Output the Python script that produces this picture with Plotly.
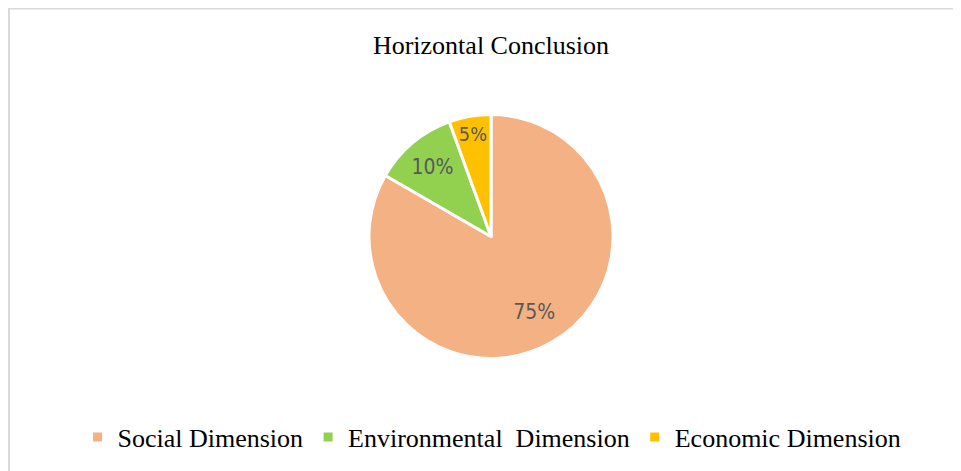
import plotly.graph_objects as go

categories = ["Social Dimension", "Environmental\u00a0 Dimension", "Economic Dimension"]
values = [75, 10, 5]
value_labels = ["75%", "10%", "5%"]
colors = ["#F4B183", "#92D050", "#FFC000"]

# window size and page offset (browser body margin)
W, H = 961, 471
OX, OY = 8, 8
FW, FH = W - OX, H - OY


def px_x(px):
    return (px - OX) / FW


def px_y(py):
    return 1 - (py - OY) / FH


cx, cy, r = 491, 236.5, 122
pie_domain = dict(x=[px_x(cx - r), px_x(cx + r)], y=[px_y(cy + r), px_y(cy - r)])

# visible pie (slices + legend)
fig = go.Figure(go.Pie(
    labels=categories,
    values=values,
    textinfo="none",
    marker=dict(colors=colors, line=dict(color="white", width=3)),
    sort=False,
    direction="clockwise",
    rotation=0,
    hoverinfo="label+percent",
    domain=pie_domain,
))

# transparent ring overlay carrying the data labels (places them further out, as in the reference)
fig.add_trace(go.Pie(
    labels=categories,
    values=values,
    text=value_labels,
    textinfo="text",
    textposition="inside",
    insidetextorientation="horizontal",
    textfont=dict(family="DejaVu Sans Condensed, sans-serif", size=21, color="#595959"),
    marker=dict(colors=["rgba(0,0,0,0)"] * len(values), line=dict(width=0)),
    hole=0.42,
    sort=False,
    direction="clockwise",
    rotation=0,
    showlegend=False,
    hoverinfo="skip",
    domain=pie_domain,
))

fig.update_layout(
    width=FW, height=FH,
    margin=dict(l=0, r=0, t=0, b=0),
    paper_bgcolor="white",
    plot_bgcolor="white",
    title=dict(text="Horizontal Conclusion", x=px_x(491), xanchor="center", y=px_y(45), yanchor="middle",
               font=dict(family="Liberation Serif, Times New Roman, serif", size=26, color="#000000")),
    legend=dict(orientation="h", x=px_x(492), xanchor="center", y=px_y(437), yanchor="middle",
                font=dict(family="Liberation Serif, Times New Roman, serif", size=26, color="#000000"),
                itemwidth=30, traceorder="normal"),
    shapes=[dict(type="rect", xref="paper", yref="paper", x0=px_x(9), x1=1.02, y0=-0.02, y1=px_y(8.5),
                 line=dict(color="#d9d9d9", width=2), fillcolor="rgba(0,0,0,0)", layer="below")],
)

fig.write_html("out.html")
